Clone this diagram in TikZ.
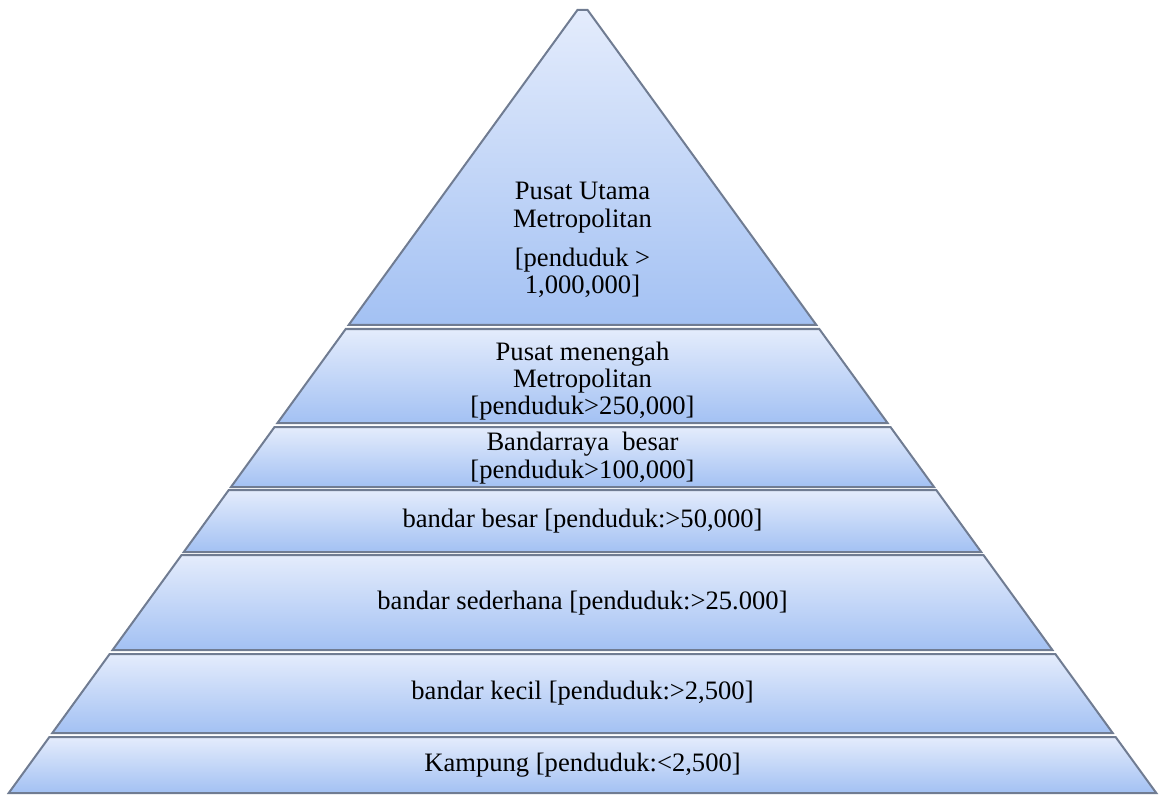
\documentclass[tikz,border=0pt]{standalone}
\usepackage{fontspec}
\setmainfont{Liberation Serif}
\usepackage{xcolor}
\usetikzlibrary{calc}
\definecolor{layertop}{RGB}{228,236,252}
\definecolor{layerbot}{RGB}{163,193,243}
\definecolor{layerline}{RGB}{112,124,146}

\tikzset{
  layer/.style={draw=layerline, line width=1pt, top color=layertop, bottom color=layerbot},
  layertext/.style={align=center, text=black, font=\fontsize{13.3}{13.6}\selectfont}
}

\begin{document}
\begin{tikzpicture}[x=0.5pt, y=-0.5pt]
  \useasboundingbox (0,0) rectangle (1160,796);
  % lapisan piramid
  \foreach \ytop/\ybot/\ylab/\txt [count=\i] in {
      10/325/240/{Pusat Utama\\Metropolitan\\[6pt]{[}penduduk >\\1,000,000]},
      329/423/381/{Pusat menengah\\Metropolitan\\{[}penduduk>250,000]},
      427/487/458/{Bandarraya\ \ besar\\{[}penduduk>100,000]},
      490/552/521/{bandar besar [penduduk:>50,000]},
      555/650/603/{bandar sederhana [penduduk:>25.000]},
      654/733/693/{bandar kecil [penduduk:>2,500]},
      737/793/765/{Kampung [penduduk:<2,500]}} {
    \pgfmathsetmacro{\wtop}{(\ytop-3)*0.7263}
    \pgfmathsetmacro{\wbot}{(\ybot-3)*0.7263}
    \draw[layer] (582.5-\wtop,\ytop) -- (582.5+\wtop,\ytop)
      -- (582.5+\wbot,\ybot) -- (582.5-\wbot,\ybot) -- cycle;
    \node[layertext] (lapis\i) at (582.5,\ylab) {\txt};
  }
\end{tikzpicture}
\end{document}
